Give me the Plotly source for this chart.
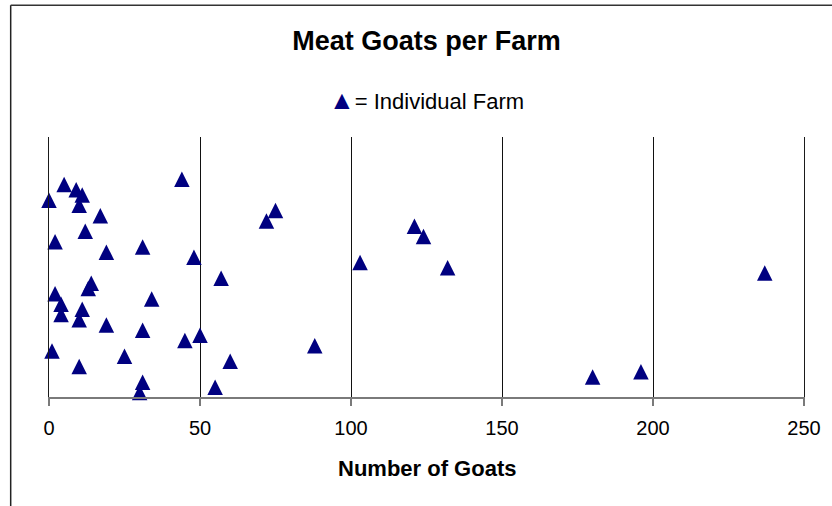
import plotly.graph_objects as go

# Meat goats per farm: one triangle per farm, stacked by farm rank on a hidden axis
farm_rank = list(range(1, 43))
goats = [30, 55, 31, 180, 196, 10, 60, 25, 1, 88,
         45, 50, 31, 19, 10, 4, 11, 4, 34, 2,
         13, 14, 57, 237, 132, 103, 48, 19, 31, 2,
         124, 12, 121, 72, 17, 75, 10, 0, 11, 9,
         5, 44]

x_ticks = [0, 50, 100, 150, 200, 250]
x_range = [0, 250]
# the arrow marker hangs below its point, so the rank axis is offset to centre it
y_range = [-1.35, 48.65]

NAVY = "#000080"
FONT = "Liberation Sans, Arial, sans-serif"

fig = go.Figure()
fig.add_trace(go.Scatter(
    x=goats,
    y=farm_rank,
    mode="markers",
    marker=dict(symbol="arrow-up", size=15.5, color=NAVY, line=dict(width=0)),
    cliponaxis=False,
    showlegend=False,
    hoverinfo="x",
))

fig.update_layout(
    width=832,
    height=506,
    margin=dict(l=49, r=28, t=137, b=109),
    paper_bgcolor="white",
    plot_bgcolor="white",
    font=dict(family=FONT, color="black"),
    title=dict(
        text="Meat Goats per Farm",
        font=dict(family=FONT, size=27, color="black", weight="bold"),
        x=0.5, xref="paper", xanchor="center",
        y=1 - 40.5 / 506, yref="container", yanchor="middle",
    ),
    xaxis=dict(
        range=x_range,
        tickvals=x_ticks,
        ticktext=[str(v) for v in x_ticks],
        tickfont=dict(family=FONT, size=20, color="black"),
        showgrid=True, gridcolor="#111111", gridwidth=1,
        zeroline=False,
        showline=True, linecolor="#7a7a7a", linewidth=2,
        ticks="outside", ticklen=7, tickwidth=1.5, tickcolor="#7a7a7a",
        ticklabelstandoff=5,
        fixedrange=True,
    ),
    yaxis=dict(
        range=y_range,
        showgrid=False, zeroline=False,
        # vertical lines at both ends of the x range
        showline=True, mirror=True, linecolor="#1a1a1a", linewidth=1,
        showticklabels=False, ticks="",
        fixedrange=True,
    ),
    annotations=[
        dict(
            text="<span style='color:#000080;font-size:26px'>▲</span>= Individual Farm",
            x=0.5, xref="paper", xanchor="center",
            y=(396.7 - 99.5) / 260, yref="paper", yanchor="middle",
            showarrow=False,
            font=dict(family=FONT, size=22, color="black"),
        ),
        dict(
            text="<b>Number of Goats</b>",
            x=0.5, xref="paper", xanchor="center",
            y=(396.7 - 468) / 260, yref="paper", yanchor="middle",
            showarrow=False,
            font=dict(family=FONT, size=22, color="black"),
        ),
    ],
    shapes=[
        # chart-area frame, top and left edges
        dict(type="line", xref="paper", yref="paper",
             x0=(11 - 49.3) / 754.7, x1=(11 - 49.3) / 754.7,
             y0=(396.7 - 520) / 260, y1=(396.7 - 5) / 260,
             line=dict(color="#222222", width=1.5)),
        dict(type="line", xref="paper", yref="paper",
             x0=(11 - 49.3) / 754.7, x1=(850 - 49.3) / 754.7,
             y0=(396.7 - 5) / 260, y1=(396.7 - 5) / 260,
             line=dict(color="#333333", width=1.5)),
    ],
)

fig.write_html("out.html")
